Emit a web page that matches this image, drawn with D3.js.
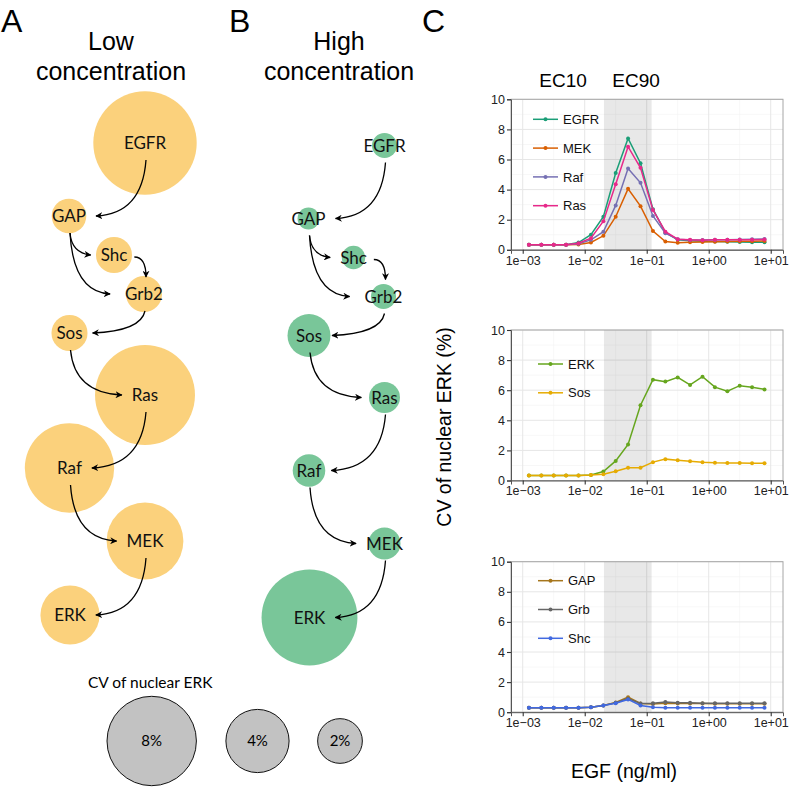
<!DOCTYPE html>
<html>
<head>
<meta charset="utf-8">
<script src="https://cdn.jsdelivr.net/npm/d3@7"></script>
<style>
  body { margin: 0; background: #fff; }
</style>
</head>
<body>
<div id="fig"></div>
<script>
// ---------- data ----------
// pathway nodes and CV of nuclear ERK (%) used for circle size
var nodeNames = ["EGFR", "GAP", "Shc", "Grb2", "Sos", "Ras", "Raf", "MEK", "ERK"];
var cvLow  = [10.7, 1.2, 1.3, 1.3, 1.3, 10.0, 8.0, 5.9, 3.5];
var cvHigh = [0.63, 0.48, 0.55, 0.63, 1.85, 0.96, 1.06, 1.03, 9.2];
var edges = [["EGFR","GAP"], ["GAP","Shc"], ["GAP","Grb2"], ["Shc","Grb2"], ["Grb2","Sos"],
             ["Sos","Ras"], ["Ras","Raf"], ["Raf","MEK"], ["MEK","ERK"]];
var legendCV = [8, 4, 2];

// dose response
var egfDose = [0.00126, 0.002, 0.00316, 0.005, 0.00794, 0.0126, 0.02, 0.0316, 0.05, 0.0794,
               0.126, 0.2, 0.316, 0.5, 0.794, 1.26, 2, 3.16, 5, 7.94];
var cvEGFR = [0.33,0.33,0.33,0.34,0.48,1.0,2.2,5.1,7.4,5.75,2.7,1.15,0.66,0.6,0.57,0.55,0.53,0.52,0.5,0.5];
var cvMEK  = [0.33,0.33,0.33,0.33,0.36,0.49,0.93,2.2,4.05,2.9,1.25,0.55,0.47,0.5,0.52,0.53,0.55,0.56,0.57,0.58];
var cvRaf  = [0.33,0.33,0.33,0.34,0.4,0.66,1.2,2.95,5.4,4.45,2.25,1.1,0.7,0.65,0.65,0.66,0.67,0.68,0.7,0.72];
var cvRas  = [0.33,0.33,0.33,0.34,0.44,0.77,1.9,4.35,6.85,5.45,2.65,1.2,0.7,0.66,0.64,0.66,0.66,0.67,0.67,0.68];
var cvERK  = [0.33,0.33,0.33,0.33,0.33,0.37,0.6,1.3,2.4,5.0,6.7,6.57,6.85,6.35,6.9,6.2,5.93,6.3,6.2,6.05];
var cvSos  = [0.33,0.33,0.33,0.33,0.33,0.36,0.42,0.62,0.85,0.85,1.22,1.42,1.35,1.28,1.22,1.18,1.17,1.17,1.15,1.15];
var cvGAP  = [0.3,0.3,0.3,0.3,0.3,0.33,0.45,0.65,1.0,0.58,0.55,0.6,0.58,0.57,0.57,0.56,0.56,0.56,0.56,0.56];
var cvGrb  = [0.3,0.3,0.3,0.3,0.3,0.33,0.45,0.63,0.9,0.58,0.6,0.68,0.62,0.62,0.6,0.6,0.6,0.6,0.6,0.6];
var cvShc  = [0.3,0.3,0.3,0.3,0.3,0.33,0.45,0.6,0.85,0.45,0.33,0.3,0.3,0.3,0.3,0.3,0.3,0.3,0.3,0.3];

var ecLabels = ["EC10", "EC90"];
var ecRange = [0.0204, 0.12];
var yTicks = [0, 2, 4, 6, 8, 10];
var xTicks = [1e-3, 1e-2, 1e-1, 1, 10];
var xTickLabels = ["1e\u221203", "1e\u221202", "1e\u221201", "1e+00", "1e+01"];

var groups = [
  {names: ["EGFR","MEK","Raf","Ras"], values: [cvEGFR, cvMEK, cvRaf, cvRas]},
  {names: ["ERK","Sos"], values: [cvERK, cvSos]},
  {names: ["GAP","Grb","Shc"], values: [cvGAP, cvGrb, cvShc]}
];

// ---------- layout / styles ----------
var W = 789, H = 788;
var sansFont = "'Liberation Sans', Arial, sans-serif";
var nodeFont = "Lato, 'Open Sans', sans-serif";
var colors = {EGFR:"#1B9E77", MEK:"#D95F02", Raf:"#7570B3", Ras:"#E7298A", ERK:"#66A61E",
              Sos:"#E6AB02", GAP:"#A6761D", Grb:"#666666", Shc:"#4169E1"};
var nodePos = {EGFR:[145,143], GAP:[69,216], Shc:[114,255], Grb2:[144,294], Sos:[69.5,333],
               Ras:[145,395], Raf:[69.5,468], MEK:[145,541], ERK:[70,615]};
var plotTops = [99.3, 330, 561.7], plotH = 150.5;
var legendTop = [20, 34, 19], legendX = [533, 538, 538];

var svg = d3.select("#fig").append("svg")
  .attr("width", W).attr("height", H)
  .style("font-family", sansFont);

var defs = svg.append("defs");
defs.append("marker")
  .attr("id", "arrow")
  .attr("viewBox", "0 0 10 10")
  .attr("refX", 9).attr("refY", 5)
  .attr("markerWidth", 7).attr("markerHeight", 7)
  .attr("markerUnits", "userSpaceOnUse")
  .attr("orient", "auto")
  .append("path").attr("d", "M0,0L10,5L0,10L3,5Z").attr("fill", "#000");

// panel letters and titles
svg.selectAll(".panelLetter")
  .data([["A", 1], ["B", 229], ["C", 422]])
  .enter().append("text")
  .attr("x", function(d) { return d[1]; })
  .attr("y", 31.5)
  .style("font-size", "32px")
  .text(function(d) { return d[0]; });

[["Low", 111], ["High", 339]].forEach(function(t) {
  svg.append("text").attr("x", t[1]).attr("y", 49.5).attr("text-anchor", "middle")
    .style("font-size", "25px").text(t[0]);
  svg.append("text").attr("x", t[1]).attr("y", 79.5).attr("text-anchor", "middle")
    .style("font-size", "25px").text("concentration");
});

var rScale = d3.scaleSqrt().domain([0, 8]).range([0, 44.7]);

function drawPathway(cv, fill, dx, dy) {
  var g = svg.append("g").attr("transform", "translate(" + dx + "," + dy + ")");
  g.selectAll("circle").data(nodeNames).enter().append("circle")
    .attr("cx", function(d) { return nodePos[d][0]; })
    .attr("cy", function(d) { return nodePos[d][1]; })
    .attr("r", function(d, i) { return rScale(cv[i]); })
    .attr("fill", fill);

  var halfW = {};
  g.selectAll("text").data(nodeNames).enter().append("text")
    .attr("x", function(d) { return nodePos[d][0]; })
    .attr("y", function(d) { return nodePos[d][1]; })
    .attr("dy", "0.36em")
    .attr("text-anchor", "middle")
    .style("font-family", nodeFont)
    .style("font-size", "17px")
    .style("fill", "#111")
    .text(function(d) { return d; })
    .each(function(d) { halfW[d] = this.getComputedTextLength() / 2; });

  g.selectAll("path.edge").data(edges).enter().append("path")
    .attr("class", "edge")
    .attr("fill", "none").attr("stroke", "#000").attr("stroke-width", 1.3)
    .attr("marker-end", "url(#arrow)")
    .attr("d", function(e) {
      var s = nodePos[e[0]], t = nodePos[e[1]];
      var sx, sy, ex, ey, cx, cy;
      if (e[0] === "Shc") {
        sx = s[0] + halfW[e[0]] + 7; sy = s[1] + 2;
        ex = t[0] + 2; ey = t[1] - 17;
        cx = ex; cy = sy;
      } else {
        var dir = t[0] > s[0] ? 1 : -1;
        var gap = (e[0] === "GAP" && e[1] === "Grb2") ? 15 : 10;
        sx = s[0] + 1; sy = s[1] + 17;
        ex = t[0] - dir * (halfW[e[1]] + gap); ey = t[1];
        cx = sx + (ex - sx) * 0.08; cy = ey - 2;
      }
      return "M" + sx + "," + sy + "Q" + cx + "," + cy + " " + ex + "," + ey;
    });
}

drawPathway(cvLow, "#FBD17C", 0, 0);
drawPathway(cvHigh, "#79C699", 239.5, 2.5);

// size legend
svg.append("text").attr("x", 88).attr("y", 688)
  .style("font-family", nodeFont).style("font-size", "15.5px").text("CV of nuclear ERK");
var legX = [151.7, 257.5, 340];
var lg = svg.selectAll(".sizeLeg").data(legendCV).enter().append("g").attr("class", "sizeLeg");
lg.append("circle")
  .attr("cx", function(d, i) { return legX[i]; }).attr("cy", 741)
  .attr("r", function(d) { return rScale(d); })
  .attr("fill", "#c2c2c2").attr("stroke", "#111").attr("stroke-width", 1);
lg.append("text")
  .attr("x", function(d, i) { return legX[i]; }).attr("y", 741).attr("dy", "0.36em")
  .attr("text-anchor", "middle")
  .style("font-family", nodeFont).style("font-size", "15px")
  .text(function(d) { return d + "%"; });

// ---------- dose-response plots ----------
var x = d3.scaleLog().domain([Math.pow(10, -3.189), Math.pow(10, 1.198)]).range([511, 783]);
var x0 = 511, x1 = 783;
var minorX = [-2.5, -1.5, -0.5, 0.5].map(function(v) { return Math.pow(10, v); });
var minorY = [1, 3, 5, 7, 9];

groups.forEach(function(grp, gi) {
  var top = plotTops[gi];
  var y = d3.scaleLinear().domain([0, 10]).range([top + plotH, top]);
  var g = svg.append("g");

  g.selectAll(".minY").data(minorY).enter().append("line")
    .attr("x1", x0).attr("x2", x1).attr("y1", y).attr("y2", y)
    .attr("stroke", "#f2f2f2").attr("stroke-width", 0.6);
  g.selectAll(".minX").data(minorX).enter().append("line")
    .attr("x1", x).attr("x2", x).attr("y1", top).attr("y2", top + plotH)
    .attr("stroke", "#f2f2f2").attr("stroke-width", 0.6);
  g.selectAll(".majY").data(yTicks).enter().append("line")
    .attr("x1", x0).attr("x2", x1).attr("y1", y).attr("y2", y)
    .attr("stroke", "#e6e6e6").attr("stroke-width", 1);
  g.selectAll(".majX").data(xTicks).enter().append("line")
    .attr("x1", x).attr("x2", x).attr("y1", top).attr("y2", top + plotH)
    .attr("stroke", "#e6e6e6").attr("stroke-width", 1);

  g.append("rect")
    .attr("x", x(ecRange[0])).attr("width", x(ecRange[1]) - x(ecRange[0]))
    .attr("y", top).attr("height", plotH)
    .attr("fill", "#000").attr("fill-opacity", 0.09);

  g.append("rect").attr("x", x0).attr("y", top).attr("width", x1 - x0).attr("height", plotH)
    .attr("fill", "none").attr("stroke", "#a6a6a6").attr("stroke-width", 1);

  var yAxis = g.append("g").attr("transform", "translate(" + x0 + ",0)")
    .call(d3.axisLeft(y).tickValues(yTicks).tickSize(4).tickPadding(2));
  var xAxis = g.append("g").attr("transform", "translate(0," + (top + plotH) + ")")
    .call(d3.axisBottom(x).tickValues(xTicks).tickSize(4).tickPadding(2)
      .tickFormat(function(d, i) { return xTickLabels[i]; }));
  [yAxis, xAxis].forEach(function(a) {
    a.select(".domain").attr("stroke", "#555");
    a.selectAll(".tick line").attr("stroke", "#333").attr("stroke-width", 1.1);
    a.selectAll("text").style("font-family", sansFont).style("font-size", "12.5px").attr("fill", "#222");
  });

  var line = d3.line()
    .x(function(d, i) { return x(egfDose[i]); })
    .y(function(d) { return y(d); });

  grp.values.forEach(function(vals, si) {
    var c = colors[grp.names[si]];
    g.append("path").datum(vals)
      .attr("fill", "none").attr("stroke", c).attr("stroke-width", 1.5)
      .attr("d", line);
    g.selectAll(".pt" + si).data(vals).enter().append("circle")
      .attr("cx", function(d, i) { return x(egfDose[i]); })
      .attr("cy", function(d) { return y(d); })
      .attr("r", 2).attr("fill", c);
  });

  // legend
  var lx = legendX[gi];
  var leg = g.selectAll(".leg").data(grp.names).enter().append("g")
    .attr("transform", function(d, i) { return "translate(" + lx + "," + (top + legendTop[gi] + i * 28.8) + ")"; });
  leg.append("line").attr("x1", 0).attr("x2", 25)
    .attr("stroke", function(d) { return colors[d]; }).attr("stroke-width", 1.5);
  leg.append("circle").attr("cx", 12.5).attr("r", 2).attr("fill", function(d) { return colors[d]; });
  leg.append("text").attr("x", 30).attr("dy", "0.36em")
    .style("font-size", "13px").attr("fill", "#111")
    .text(function(d) { return d; });
});

// EC labels
svg.selectAll(".ec").data(ecLabels).enter().append("text")
  .attr("x", function(d, i) { return i === 0 ? 563 : 636; })
  .attr("y", 86.7)
  .attr("text-anchor", "middle")
  .style("font-size", "19px")
  .text(function(d) { return d; });

// axis titles
svg.append("text")
  .attr("transform", "translate(444,427)rotate(-90)")
  .attr("dy", "0.36em")
  .attr("text-anchor", "middle")
  .style("font-size", "19.5px")
  .text("CV of nuclear ERK (%)");
svg.append("text")
  .attr("x", 624).attr("y", 778)
  .attr("text-anchor", "middle")
  .style("font-size", "19.5px")
  .text("EGF (ng/ml)");
</script>
</body>
</html>
